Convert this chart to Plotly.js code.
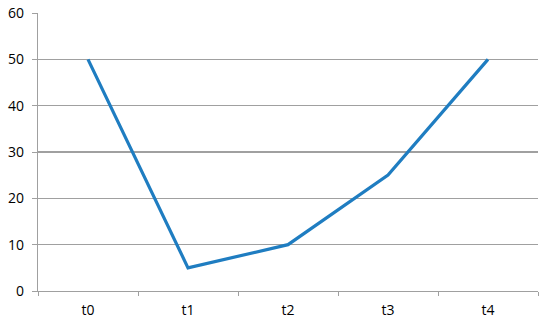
<!DOCTYPE html>
<html>
<head>
<meta charset="utf-8">
<script src="https://cdn.plot.ly/plotly-3.0.1.min.js"></script>
<style>
  html, body { margin: 0; padding: 0; background: #fff; }
  #chart { width: 550px; height: 327px; }
</style>
</head>
<body>
<div id="chart"></div>
<script>
// Categories and values
const periods = ['t0', 't1', 't2', 't3', 't4'];
const values  = [50, 5, 10, 25, 50];
const yTicks  = [0, 10, 20, 30, 40, 50, 60];

const trace = {
  x: periods,
  y: values,
  type: 'scatter', mode: 'lines',
  line: { color: '#1f7dc1', width: 3.2 },
  hoverinfo: 'skip'
};

const layout = {
  width: 550,
  height: 327,
  margin: { t: 13, b: 36, l: 38, r: 12 },
  paper_bgcolor: '#FFFFFF',
  plot_bgcolor: '#FFFFFF',
  font: { family: 'Open Sans, Liberation Sans, Arial, sans-serif', size: 14, color: '#000' },
  showlegend: false,
  xaxis: {
    type: 'category',
    range: [-0.5, 4.5],
    showgrid: false,
    showline: true, linecolor: '#a0a0a0', linewidth: 1.3,
    ticks: 'outside', tickson: 'boundaries', ticklen: 4, tickcolor: '#a0a0a0',
    ticklabelstandoff: 6,
    tickfont: { size: 14 },
    fixedrange: true
  },
  yaxis: {
    range: [0, 60],
    tickvals: yTicks,
    showgrid: true, gridcolor: '#a0a0a0', gridwidth: 1.2,
    zeroline: false,
    showline: true, linecolor: '#a0a0a0', linewidth: 1.3,
    ticks: 'outside', ticklen: 5, tickcolor: '#a0a0a0',
    ticklabelstandoff: 5,
    tickfont: { size: 14 },
    fixedrange: true
  }
};

Plotly.newPlot('chart', [trace], layout, { displayModeBar: false, staticPlot: true });
</script>
</body>
</html>
